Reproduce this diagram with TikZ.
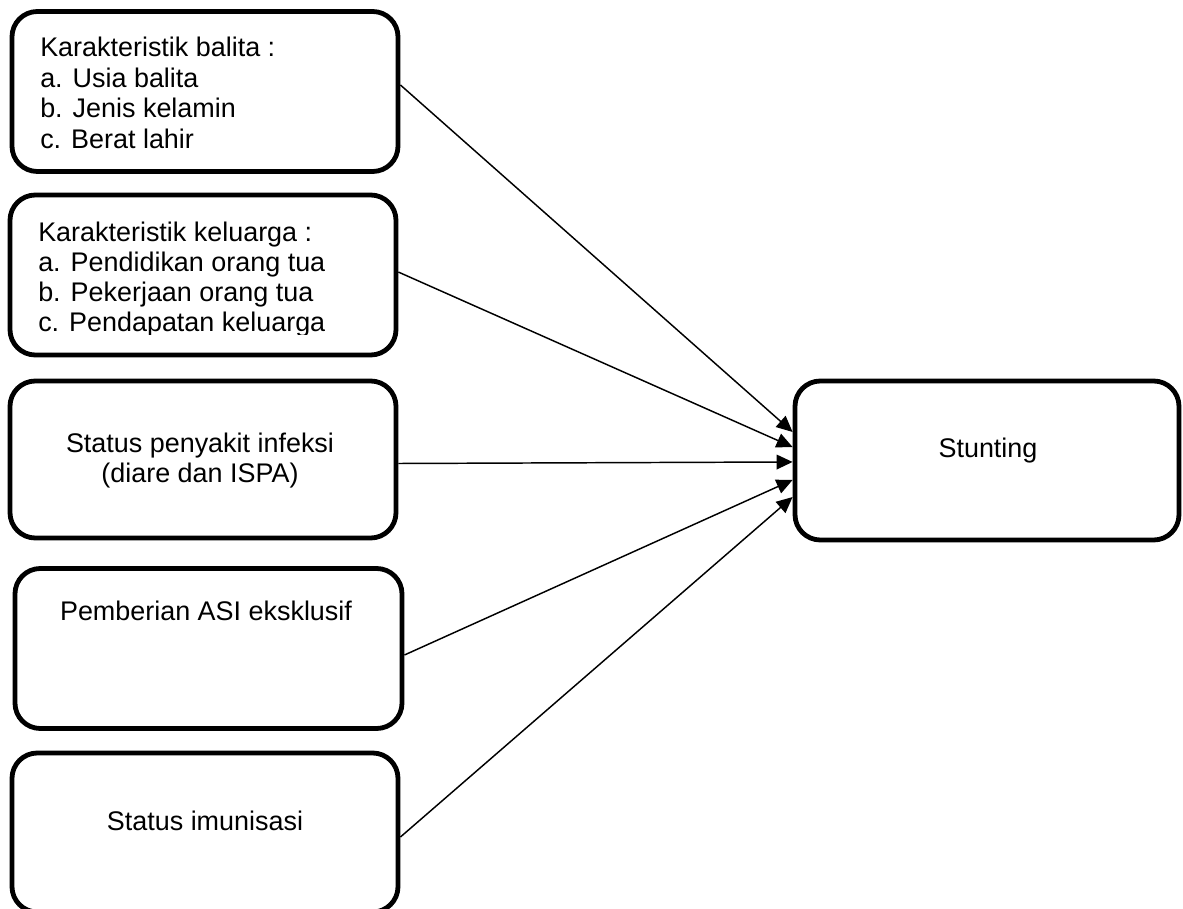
\documentclass[tikz,border=0pt]{standalone}
\usepackage{fontspec}
\setmainfont{Liberation Sans}
\usetikzlibrary{arrows.meta}
\begin{document}
\begin{tikzpicture}[x=0.75pt,y=-0.75pt,
  box/.style={draw=black,line width=3.6pt,rounded corners=19pt,minimum width=289.5pt,minimum height=120pt,inner sep=0pt,fill=white},
  txt/.style={inner sep=0pt,font=\fontsize{20.2}{23}\selectfont},
  arr/.style={line width=1.1pt,-{Triangle[length=12pt,width=11pt]}}]
\clip (0,0) rectangle (1183,909);
\fill[white] (0,0) rectangle (1183,909);
% boxes
\node[box] (b1) at (205,91.5) {};
\node[box] (b2) at (203,275) {};
\node[box,minimum height=117.75pt] (b3) at (203,459.5) {};
\node[box,minimum width=290.25pt] (b4) at (208.5,648.5) {};
\node[box,minimum height=119.25pt] (b5) at (205,832.5) {};
\node[box,minimum width=288pt,minimum height=119.25pt] (st) at (987,460.5) {};
% texts
\node[txt,anchor=base west] (t1a) at (40,57) {Karakteristik balita :};
\node[txt,anchor=base west] (t1b) at (40,87.5) {a. Usia balita};
\node[txt,anchor=base west] (t1c) at (40,118) {b. Jenis kelamin};
\node[txt,anchor=base west] (t1d) at (40,148.5) {c. Berat lahir};
\node[txt,anchor=base west] (t2a) at (38,242) {Karakteristik keluarga :};
\node[txt,anchor=base west] (t2b) at (38,272) {a. Pendidikan orang tua};
\node[txt,anchor=base west] (t2c) at (38,302) {b. Pekerjaan orang tua};
\begin{scope}
\clip (20,300) rectangle (390,335);
\node[txt,anchor=base west] (t2d) at (38,332) {c. Pendapatan keluarga};
\end{scope}
\node[txt,anchor=base] (t3a) at (200,453) {Status penyakit infeksi};
\node[txt,anchor=base] (t3b) at (200,483) {(diare dan ISPA)};
\node[txt,anchor=base] (t4) at (206,620) {Pemberian ASI eksklusif};
\node[txt,anchor=base] (t5) at (205,830) {Status imunisasi};
\node[txt,anchor=base] (t6) at (988,458) {Stunting};
% connectors
\draw[arr] ([yshift=4.9pt]b1.east) -- ([yshift=21.4pt]st.west);
\draw[arr] ([yshift=2.2pt]b2.east) -- ([yshift=10.1pt]st.west);
\draw[arr] ([yshift=-3pt]b3.east) -- ([yshift=-1.1pt]st.west);
\draw[arr] ([yshift=-4.9pt]b4.east) -- ([yshift=-14.6pt]st.west);
\draw[arr] ([yshift=-3.4pt]b5.east) -- ([yshift=-27.4pt]st.west);
\end{tikzpicture}
\end{document}
